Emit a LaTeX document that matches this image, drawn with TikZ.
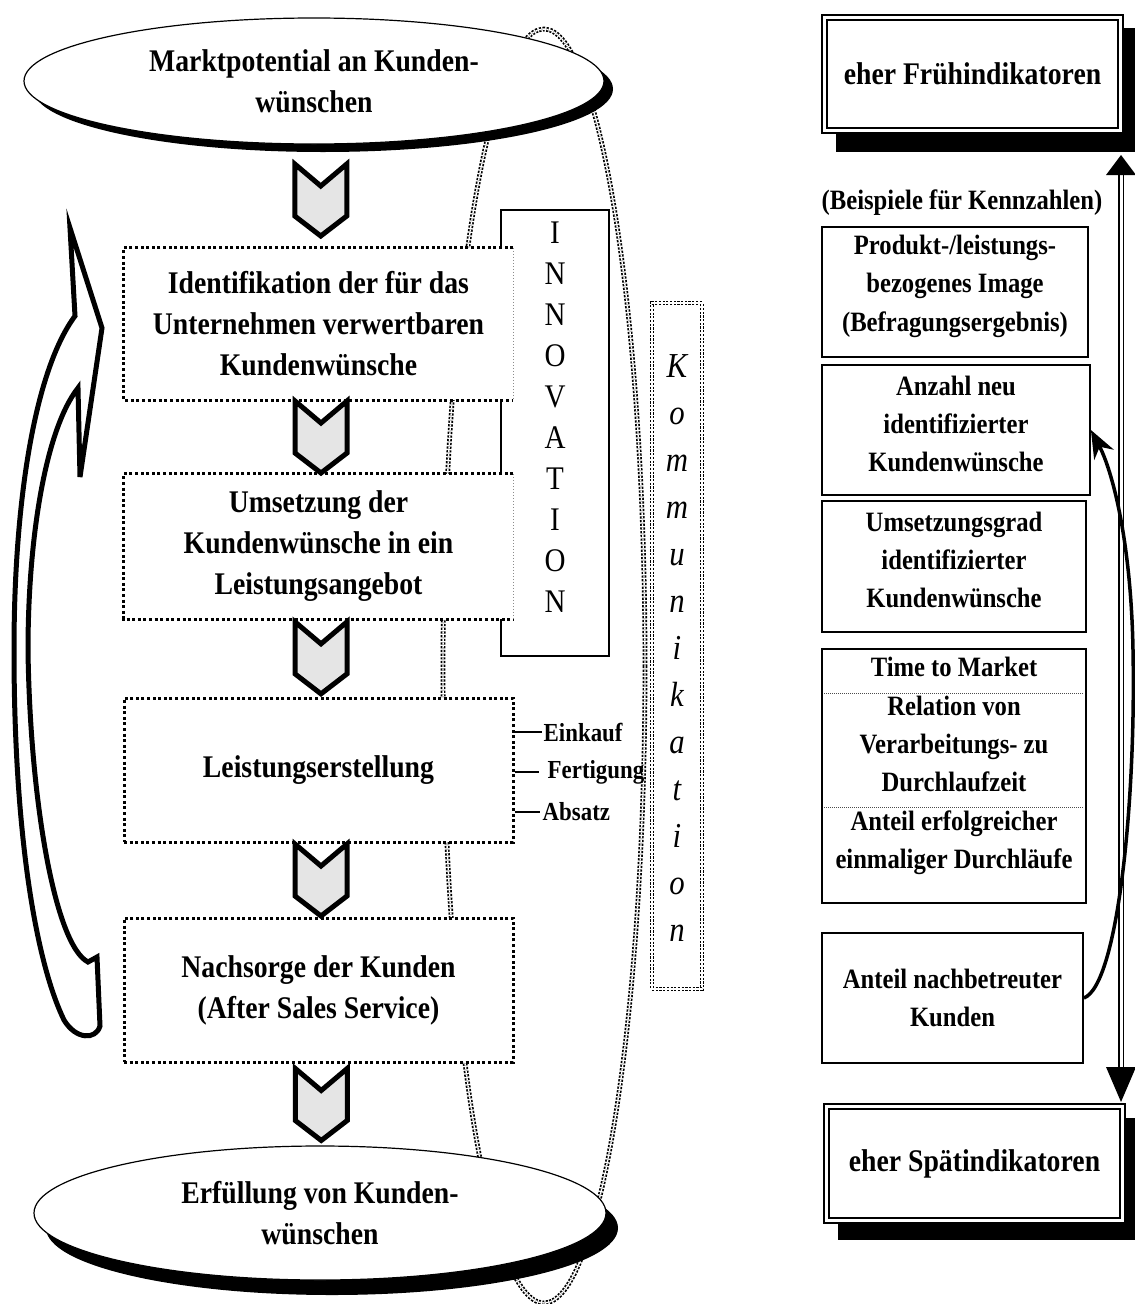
\documentclass[tikz,border=0pt]{standalone}
\usepackage{fontspec}
\setmainfont{Liberation Serif}[FakeStretch=0.88]
\usetikzlibrary{shapes.geometric,arrows.meta,calc}
\begin{document}
\begin{tikzpicture}[x=1pt,y=-1pt,
 bigtxt/.style={font=\bfseries\fontsize{31.5}{41}\selectfont, align=center},
 smalltxt/.style={font=\bfseries\fontsize{28}{38.4}\selectfont, align=center, inner sep=0pt},
 lbltxt/.style={font=\bfseries\fontsize{26}{28}\selectfont, anchor=west, inner sep=0pt},
 ellmain/.style={ellipse, draw=black, line width=1.2pt, fill=white, inner sep=0pt},
 ellshadow/.style={ellipse, fill=black, inner sep=0pt},
 dbox/.style={rectangle, fill=white, inner sep=0pt, minimum width=389pt},
 dotline/.style={draw=black, line width=3pt, dash pattern=on 3pt off 2.6pt},
 greydot/.style={draw=black!45, line width=1pt, dash pattern=on 1.5pt off 1.5pt},
 chevstyle/.style={draw=black, line width=5pt, fill=black!10, line join=miter},
 dbldot/.style={draw=black, line width=1.7pt, double=white, double distance=1.4pt, dash pattern=on 2.2pt off 1.5pt},
 rbox/.style={rectangle, draw=black, line width=1.8pt, fill=white, inner sep=0pt},
 dframe/.style={rectangle, draw=black, line width=1.6pt, double=white, double distance=3pt, fill=white, inner sep=0pt},
 shadowbox/.style={rectangle, fill=black, inner sep=0pt},
 sepdot/.style={draw=black!70, line width=0.8pt, dash pattern=on 1pt off 1pt},
 chev/.pic={\path[chevstyle] (-26,-36) -- (0,-14) -- (26,-36) -- (26,16) -- (0,36) -- (-26,16) -- cycle;}
]
\useasboundingbox (0,0) rectangle (1135,1304);

% Kommunikation oval (behind everything)
\draw[dbldot] (544,666) ellipse [x radius=101, y radius=637];

% left return arrow (outline)
\draw[line width=5pt, line join=miter]
  (70,228) -- (102,328) -- (80,477) -- (78,388)
  .. controls (45,430) and (28,540) .. (28,650)
  .. controls (30,800) and (55,945) .. (88,962)
  -- (97,957) -- (100,1026)
  .. controls (96,1040) and (76,1040) .. (64,1020)
  .. controls (35,960) and (14,830) .. (14,650)
  .. controls (14,500) and (35,370) .. (75,316)
  -- cycle;

% top ellipse
\node[ellshadow, minimum width=580pt, minimum height=126pt] (topsh) at (323,89) {};
\node[ellmain, minimum width=580pt, minimum height=126pt, bigtxt] (top) at (314,81) {Marktpotential an Kunden-\\wünschen};

% INNOVATION
\node[rectangle, draw=black, line width=1.8pt, fill=white, minimum width=108pt, minimum height=446pt, inner sep=0pt] (innov) at (555,433) {};
\node[font=\fontsize{33}{41}\selectfont, align=center] (innovtxt) at (555,417) {I\\N\\N\\O\\V\\A\\T\\I\\O\\N};

% Kommunikation
\node[dbldot, rectangle, minimum width=50pt, minimum height=686pt, inner sep=0pt] (komm) at (677,646) {};
\node[font=\itshape\fontsize{35}{47}\selectfont, align=center] (kommtxt) at (677,648) {K\\o\\m\\m\\u\\n\\i\\k\\a\\t\\i\\o\\n};

% process boxes
\node[dbox, minimum height=152pt, bigtxt] (b1) at (318.5,324) {Identifikation der für das\\Unternehmen verwertbaren\\Kundenwünsche};
\draw[dotline] (b1.north east) -- (b1.north west) -- (b1.south west) -- (b1.south east);
\draw[greydot] (b1.north east) -- (b1.south east);

\node[dbox, minimum height=145pt, bigtxt] (b2) at (318.5,546.5) {Umsetzung der\\Kundenwünsche in ein\\Leistungsangebot};
\draw[dotline] (b2.north east) -- (b2.north west) -- (b2.south west) -- (b2.south east);
\draw[greydot] (b2.north east) -- (b2.south east);

\node[dbox, dotline, minimum height=144pt, bigtxt] (b3) at (318.5,770) {Leistungserstellung};
\node[dbox, dotline, minimum height=144pt, bigtxt] (b4) at (318.5,990) {Nachsorge der Kunden\\(After Sales Service)};

% sub-labels of Leistungserstellung
\draw[line width=1.3pt] ($(b3.east)+(0,-38)$) -- ++(27,0) coordinate (e1);
\node[lbltxt, xshift=2pt] (ein) at (e1) {Einkauf};
\draw[line width=1.3pt] ($(b3.east)+(0,2)$) -- ++(24,0) coordinate (e2);
\node[lbltxt, xshift=9pt] (fert) at (e2) {Fertigung};
\draw[line width=1.3pt] ($(b3.east)+(0,42)$) -- ++(25,0) coordinate (e3);
\node[lbltxt, xshift=3pt] (abs) at (e3) {Absatz};

% bottom ellipse
\node[ellshadow, minimum width=572pt, minimum height=134pt] (botsh) at (332,1228) {};
\node[ellmain, minimum width=572pt, minimum height=134pt, bigtxt] (bot) at (320,1213) {Erfüllung von Kunden-\\wünschen};

% chevrons
\pic at ($(topsh.south)!0.5!(b1.north)$) {chev};
\pic[xshift=2.5pt] at ($(b1.south)!0.5!(b2.north)$) {chev};
\pic[xshift=2.5pt] at ($(b2.south)!0.5!(b3.north)$) {chev};
\pic[xshift=2.5pt] at ($(b3.south)!0.5!(b4.north)$) {chev};
\pic[xshift=2pt] at ($(b4.south)!0.5!(bot.north)$) {chev};

% right side: indicator arrow
\coordinate (atop) at (1121,155);
\coordinate (abot) at (1121,1102);
\draw[line width=1.1pt, double=white, double distance=3pt] ($(atop)+(0,18)$) -- ($(abot)+(0,-33)$);
\fill (atop) -- ++(-15,20) -- ++(30,0) -- cycle;
\fill (abot) -- ++(-15,-35) -- ++(30,0) -- cycle;

\node[shadowbox, minimum width=299pt, minimum height=124pt] (frush) at (985.5,90) {};
\node[dframe, minimum width=296pt, minimum height=113pt, bigtxt] (fru) at (972.5,74) {eher Frühindikatoren};

\node[shadowbox, minimum width=297pt, minimum height=122pt] (spatsh) at (986.5,1179) {};
\node[dframe, minimum width=296pt, minimum height=114pt, bigtxt] (spat) at (974.5,1163.5) {eher Spätindikatoren};

\node[smalltxt] (beisp) at (962,203) {(Beispiele für Kennzahlen)};

\node[rbox, minimum width=266pt, minimum height=130pt] (r1) at (955,292) {};
\node[smalltxt] (r1t) at (955,286) {Produkt-/leistungs-\\bezogenes Image\\(Befragungsergebnis)};
\node[rbox, minimum width=268pt, minimum height=130pt] (r2) at (956,430) {};
\node[smalltxt] (r2t) at (956,424) {Anzahl neu\\identifizierter\\Kundenwünsche};
\node[rbox, minimum width=264pt, minimum height=131pt] (r3) at (954,566.5) {};
\node[smalltxt] (r3t) at (954,560) {Umsetzungsgrad\\identifizierter\\Kundenwünsche};
\node[rbox, minimum width=264pt, minimum height=254pt] (r4) at (954,776) {};
\node[smalltxt] (r4t) at (954,766) {Time to Market\\Relation von\\Verarbeitungs- zu\\Durchlaufzeit\\Anteil erfolgreicher\\einmaliger Durchläufe};
\draw[sepdot] ($(r4.west)+(3,-83)$) -- ($(r4.east)+(-3,-83)$);
\draw[sepdot] ($(r4.west)+(3,31)$) -- ($(r4.east)+(-3,31)$);
\node[rbox, minimum width=261pt, minimum height=130pt] (r5) at (952.5,998) {};
\node[smalltxt] (r5t) at (952.5,998) {Anteil nachbetreuter\\Kunden};

% feedback arrow
\draw[line width=3.5pt, -{Stealth[length=28pt,width=22pt]}]
  (r5.east) .. controls (1118,985) and (1136,800) .. (1133,650)
  .. controls (1131,540) and (1112,470) .. (r2.east);
\end{tikzpicture}
\end{document}
